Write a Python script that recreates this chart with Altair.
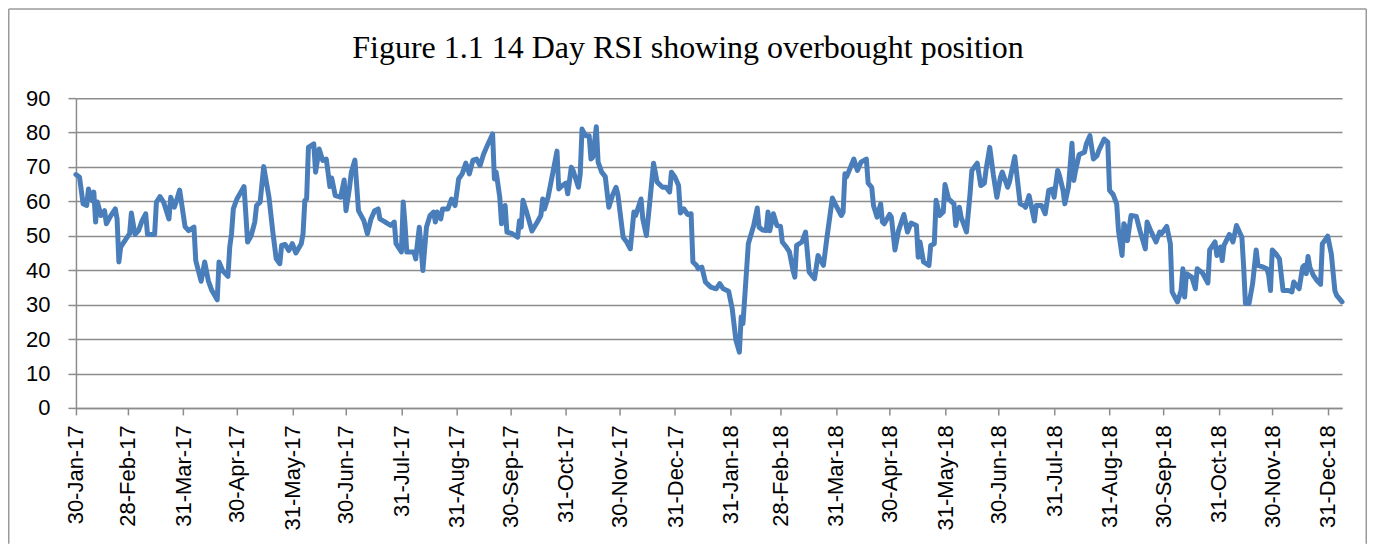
import altair as alt
import pandas as pd

title_text = "Figure 1.1 14 Day RSI showing overbought position"

dates = [
    "2017-01-30", "2017-02-01", "2017-02-03", "2017-02-05", "2017-02-06", "2017-02-08", "2017-02-09", "2017-02-10", "2017-02-11", "2017-02-13",
    "2017-02-15", "2017-02-16", "2017-02-18", "2017-02-21", "2017-02-22", "2017-02-23", "2017-02-24", "2017-02-27", "2017-03-01", "2017-03-02",
    "2017-03-04", "2017-03-06", "2017-03-08", "2017-03-10", "2017-03-11", "2017-03-15", "2017-03-16", "2017-03-18", "2017-03-20", "2017-03-23",
    "2017-03-24", "2017-03-26", "2017-03-27", "2017-03-29", "2017-04-01", "2017-04-03", "2017-04-06", "2017-04-07", "2017-04-10", "2017-04-12",
    "2017-04-14", "2017-04-16", "2017-04-19", "2017-04-20", "2017-04-22", "2017-04-25", "2017-04-26", "2017-04-27", "2017-04-28", "2017-04-30",
    "2017-05-04", "2017-05-06", "2017-05-08", "2017-05-10", "2017-05-11", "2017-05-13", "2017-05-15", "2017-05-18", "2017-05-20", "2017-05-22",
    "2017-05-24", "2017-05-25", "2017-05-27", "2017-05-29", "2017-05-31", "2017-06-02", "2017-06-05", "2017-06-06", "2017-06-07", "2017-06-08",
    "2017-06-09", "2017-06-12", "2017-06-13", "2017-06-15", "2017-06-17", "2017-06-19", "2017-06-21", "2017-06-22", "2017-06-24", "2017-06-26",
    "2017-06-27", "2017-06-29", "2017-06-30", "2017-07-02", "2017-07-03", "2017-07-05", "2017-07-07", "2017-07-10", "2017-07-12", "2017-07-14",
    "2017-07-16", "2017-07-18", "2017-07-19", "2017-07-22", "2017-07-25", "2017-07-27", "2017-07-28", "2017-07-31", "2017-08-01", "2017-08-02",
    "2017-08-03", "2017-08-05", "2017-08-07", "2017-08-08", "2017-08-10", "2017-08-11", "2017-08-12", "2017-08-14", "2017-08-16", "2017-08-18",
    "2017-08-19", "2017-08-20", "2017-08-22", "2017-08-23", "2017-08-26", "2017-08-28", "2017-08-30", "2017-09-01", "2017-09-03", "2017-09-05",
    "2017-09-07", "2017-09-09", "2017-09-11", "2017-09-13", "2017-09-15", "2017-09-17", "2017-09-20", "2017-09-21", "2017-09-22", "2017-09-24",
    "2017-09-25", "2017-09-27", "2017-09-28", "2017-10-01", "2017-10-04", "2017-10-05", "2017-10-06", "2017-10-07", "2017-10-09", "2017-10-12",
    "2017-10-15", "2017-10-17", "2017-10-18", "2017-10-19", "2017-10-21", "2017-10-23", "2017-10-26", "2017-10-27", "2017-10-29", "2017-10-31",
    "2017-11-01", "2017-11-03", "2017-11-04", "2017-11-07", "2017-11-08", "2017-11-09", "2017-11-11", "2017-11-13", "2017-11-14", "2017-11-15",
    "2017-11-17", "2017-11-18", "2017-11-20", "2017-11-22", "2017-11-24", "2017-11-26", "2017-11-28", "2017-11-29", "2017-12-02", "2017-12-04",
    "2017-12-06", "2017-12-08", "2017-12-09", "2017-12-12", "2017-12-13", "2017-12-15", "2017-12-17", "2017-12-19", "2017-12-21", "2017-12-24",
    "2017-12-26", "2017-12-28", "2017-12-29", "2017-12-31", "2018-01-02", "2018-01-03", "2018-01-05", "2018-01-07", "2018-01-09", "2018-01-10",
    "2018-01-12", "2018-01-13", "2018-01-15", "2018-01-17", "2018-01-20", "2018-01-23", "2018-01-25", "2018-01-27", "2018-01-30", "2018-02-01",
    "2018-02-03", "2018-02-05", "2018-02-06", "2018-02-07", "2018-02-09", "2018-02-10", "2018-02-13", "2018-02-15", "2018-02-16", "2018-02-18",
    "2018-02-20", "2018-02-21", "2018-02-22", "2018-02-24", "2018-02-26", "2018-02-28", "2018-03-01", "2018-03-03", "2018-03-05", "2018-03-07",
    "2018-03-08", "2018-03-09", "2018-03-12", "2018-03-14", "2018-03-16", "2018-03-19", "2018-03-21", "2018-03-24", "2018-03-26", "2018-03-29",
    "2018-03-31", "2018-04-03", "2018-04-04", "2018-04-05", "2018-04-06", "2018-04-10", "2018-04-12", "2018-04-14", "2018-04-17", "2018-04-18",
    "2018-04-20", "2018-04-21", "2018-04-23", "2018-04-25", "2018-04-26", "2018-04-27", "2018-04-30", "2018-05-01", "2018-05-03", "2018-05-05",
    "2018-05-08", "2018-05-10", "2018-05-12", "2018-05-15", "2018-05-16", "2018-05-17", "2018-05-19", "2018-05-22", "2018-05-23", "2018-05-25",
    "2018-05-26", "2018-05-28", "2018-05-30", "2018-05-31", "2018-06-02", "2018-06-05", "2018-06-06", "2018-06-08", "2018-06-09", "2018-06-12",
    "2018-06-14", "2018-06-15", "2018-06-18", "2018-06-20", "2018-06-22", "2018-06-23", "2018-06-25", "2018-06-27", "2018-06-29", "2018-07-01",
    "2018-07-02", "2018-07-05", "2018-07-06", "2018-07-09", "2018-07-12", "2018-07-14", "2018-07-15", "2018-07-17", "2018-07-20", "2018-07-21",
    "2018-07-24", "2018-07-26", "2018-07-28", "2018-07-30", "2018-07-31", "2018-08-02", "2018-08-03", "2018-08-05", "2018-08-06", "2018-08-08",
    "2018-08-10", "2018-08-11", "2018-08-12", "2018-08-14", "2018-08-17", "2018-08-18", "2018-08-20", "2018-08-22", "2018-08-24", "2018-08-25",
    "2018-08-28", "2018-08-30", "2018-08-31", "2018-09-02", "2018-09-04", "2018-09-05", "2018-09-07", "2018-09-08", "2018-09-09", "2018-09-10",
    "2018-09-12", "2018-09-15", "2018-09-17", "2018-09-20", "2018-09-21", "2018-09-23", "2018-09-26", "2018-09-28", "2018-09-29", "2018-10-02",
    "2018-10-04", "2018-10-05", "2018-10-07", "2018-10-08", "2018-10-10", "2018-10-11", "2018-10-12", "2018-10-13", "2018-10-16", "2018-10-18",
    "2018-10-19", "2018-10-22", "2018-10-25", "2018-10-26", "2018-10-29", "2018-10-30", "2018-11-01", "2018-11-02", "2018-11-03", "2018-11-06",
    "2018-11-08", "2018-11-10", "2018-11-13", "2018-11-14", "2018-11-15", "2018-11-17", "2018-11-19", "2018-11-21", "2018-11-22", "2018-11-25",
    "2018-11-27", "2018-11-28", "2018-11-29", "2018-11-30", "2018-12-02", "2018-12-04", "2018-12-06", "2018-12-09", "2018-12-11", "2018-12-12",
    "2018-12-15", "2018-12-17", "2018-12-18", "2018-12-19", "2018-12-20", "2018-12-21", "2018-12-23", "2018-12-25", "2018-12-27", "2018-12-28",
    "2018-12-30", "2018-12-31", "2019-01-02", "2019-01-04", "2019-01-05", "2019-01-08",
]

rsi = [
    67.8, 67.0, 59.3, 58.8, 63.6, 60.2, 62.7, 54.0, 59.8, 55.9,
    57.3, 53.5, 55.4, 57.8, 54.9, 42.4, 46.7, 49.1, 50.6, 56.6,
    50.4, 51.5, 54.4, 56.4, 50.4, 50.4, 59.8, 61.4, 59.8, 54.9,
    61.2, 58.3, 59.8, 63.3, 52.7, 51.5, 52.5, 42.8, 36.8, 42.4,
    37.0, 34.1, 31.4, 42.4, 39.9, 38.2, 46.7, 50.6, 57.8, 60.7,
    64.3, 48.2, 50.1, 54.0, 58.8, 59.8, 70.1, 61.0, 51.5, 43.3,
    41.9, 47.2, 47.5, 45.7, 47.7, 45.0, 47.7, 50.6, 60.3, 60.7,
    75.7, 76.7, 68.5, 75.2, 71.9, 72.3, 64.3, 66.8, 61.7, 61.4,
    61.2, 66.2, 57.3, 64.1, 68.5, 72.0, 57.3, 54.4, 50.6, 54.9,
    57.3, 57.8, 54.9, 54.0, 53.0, 54.0, 47.7, 45.3, 59.8, 53.5,
    45.3, 45.3, 45.3, 43.3, 52.5, 46.7, 39.9, 52.5, 55.9, 56.9,
    54.0, 56.9, 54.9, 57.8, 57.8, 60.7, 58.8, 66.5, 68.0, 71.1,
    68.0, 72.0, 72.3, 70.4, 73.8, 76.2, 79.6, 66.5, 68.5, 61.2,
    53.5, 58.8, 51.1, 50.6, 49.6, 54.4, 52.5, 60.3, 56.9, 51.4,
    54.0, 55.9, 60.7, 57.8, 61.2, 66.5, 74.6, 63.6, 64.6, 65.3,
    62.2, 69.9, 69.0, 64.1, 68.0, 81.0, 79.1, 79.1, 72.3, 72.8,
    81.7, 71.4, 68.5, 67.2, 58.3, 61.7, 64.1, 62.2, 49.6, 48.2,
    46.2, 56.9, 55.9, 60.7, 54.9, 50.1, 60.3, 71.1, 65.6, 64.1,
    64.1, 62.7, 68.5, 67.0, 64.6, 56.6, 57.8, 56.2, 56.4, 42.4,
    41.4, 40.4, 40.9, 36.6, 35.1, 34.6, 36.1, 34.6, 33.9, 28.8,
    19.8, 16.2, 26.4, 24.5, 39.9, 47.7, 53.0, 58.1, 52.5, 51.7,
    51.5, 56.9, 51.5, 56.4, 53.0, 52.7, 48.2, 46.9, 45.3, 39.9,
    38.0, 47.2, 48.2, 51.1, 39.5, 37.5, 44.3, 41.4, 49.6, 61.0,
    58.8, 55.9, 56.9, 68.0, 67.2, 72.3, 69.0, 71.4, 72.3, 65.3,
    64.1, 58.8, 55.4, 59.3, 54.0, 53.5, 56.2, 55.4, 45.9, 51.5,
    56.2, 51.1, 53.7, 53.0, 43.8, 48.2, 42.4, 41.4, 47.2, 47.7,
    60.3, 55.9, 56.9, 64.9, 60.7, 59.3, 53.0, 58.3, 55.4, 51.1,
    62.2, 69.0, 71.1, 64.6, 65.3, 69.4, 75.7, 67.8, 61.2, 67.0,
    68.5, 64.1, 65.6, 73.0, 59.3, 58.8, 58.3, 61.7, 54.3, 58.8,
    58.8, 56.4, 63.2, 63.6, 61.2, 69.0, 67.5, 63.2, 59.3, 64.1,
    76.9, 66.1, 69.0, 73.6, 74.3, 76.7, 79.1, 72.3, 73.3, 74.8,
    78.1, 77.2, 63.2, 62.0, 59.3, 51.5, 44.3, 53.5, 52.5, 48.6,
    55.9, 55.6, 51.5, 46.2, 54.0, 51.5, 48.2, 51.1, 50.6, 52.7,
    47.7, 33.7, 31.7, 30.8, 34.1, 40.4, 32.2, 39.0, 38.0, 34.6,
    40.4, 39.2, 36.3, 45.9, 48.2, 44.3, 46.7, 42.8, 47.2, 50.4,
    48.2, 53.0, 49.6, 40.9, 30.3, 30.3, 36.1, 45.9, 41.4, 40.9,
    40.4, 38.5, 34.1, 45.9, 44.8, 43.3, 34.1, 34.1, 33.7, 36.6,
    34.6, 40.9, 41.4, 39.0, 44.0, 40.9, 38.5, 37.0, 35.9, 47.7,
    49.1, 49.9, 44.8, 34.1, 32.7, 30.8,
]

tick_dates = [
    "2017-01-30", "2017-02-28", "2017-03-31", "2017-04-30", "2017-05-31", "2017-06-30",
    "2017-07-31", "2017-08-31", "2017-09-30", "2017-10-31", "2017-11-30", "2017-12-31",
    "2018-01-31", "2018-02-28", "2018-03-31", "2018-04-30", "2018-05-31", "2018-06-30",
    "2018-07-31", "2018-08-31", "2018-09-30", "2018-10-31", "2018-11-30", "2018-12-31",
]
y_ticks = [0, 10, 20, 30, 40, 50, 60, 70, 80, 90]

df = pd.DataFrame({"date": pd.to_datetime(dates), "rsi": rsi})
df["idx"] = range(len(df))


def dt(s):
    y, m, d = (int(p) for p in s.split("-"))
    return alt.DateTime(year=y, month=m, date=d)


W, H = 1267, 310
PAD_L, PAD_T, PAD_R, PAD_B = 68, 90, 25, 136
GRID = "#8c8c8c"
BORDER = "#9a9a9a"

line = alt.Chart(df).mark_line(
    color="#4a7ebb", strokeWidth=5, strokeJoin="round", strokeCap="round"
).encode(
    x=alt.X(
        "date:T",
        scale=alt.Scale(domain=[dt(dates[0]), dt(dates[-1])], nice=False),
        axis=alt.Axis(
            values=[dt(s) for s in tick_dates],
            format="%d-%b-%y",
            labelAngle=270,
            grid=False,
            title=None,
            tickSize=7,
            labelPadding=10,
            labelOverlap=False,
        ),
    ),
    y=alt.Y(
        "rsi:Q",
        scale=alt.Scale(domain=[0, 90], nice=False),
        axis=alt.Axis(
            values=y_ticks,
            grid=True,
            title=None,
            tickSize=8,
            labelPadding=18,
        ),
    ),
    order=alt.Order("idx:Q"),
)

one = alt.Data(values=[{"k": 0}])
border_left = alt.Chart(one).mark_rule(color=BORDER, strokeWidth=1.5).encode(
    x=alt.value(-PAD_L + 0.75), y=alt.value(-PAD_T + 0.75), y2=alt.value(H + PAD_B)
)
border_right = alt.Chart(one).mark_rule(color=BORDER, strokeWidth=1.5).encode(
    x=alt.value(W + PAD_R - 0.75), y=alt.value(-PAD_T + 0.75), y2=alt.value(H + PAD_B)
)
border_top = alt.Chart(one).mark_rule(color=BORDER, strokeWidth=1.5).encode(
    x=alt.value(-PAD_L + 0.75), x2=alt.value(W + PAD_R - 0.75), y=alt.value(-PAD_T + 0.75)
)

chart = alt.layer(line, border_left, border_right, border_top).properties(
    width=W,
    height=H,
    padding={"left": PAD_L, "top": PAD_T, "right": PAD_R, "bottom": PAD_B},
    autosize=alt.AutoSizeParams(type="none"),
    background="white",
    title=alt.TitleParams(
        text=title_text,
        anchor="middle",
        frame="group",
        offset=0,
        dy=82,
        baseline="alphabetic",
        dx=-21,
        font="Liberation Serif",
        fontSize=32,
        fontWeight="normal",
        color="black",
    ),
).configure_view(
    stroke=None
).configure_axis(
    domainColor=GRID,
    domainWidth=1.5,
    tickColor=GRID,
    tickWidth=1.5,
    gridColor=GRID,
    gridWidth=1.5,
    labelFont="Liberation Sans",
    labelFontSize=22,
    labelColor="black",
)

chart.save("out.html", embed_options={"renderer": "svg", "actions": False})
